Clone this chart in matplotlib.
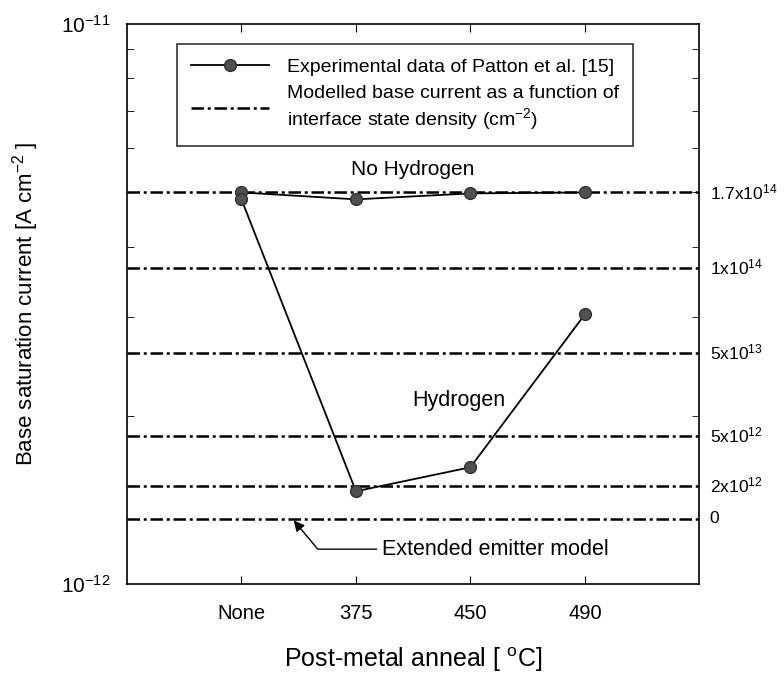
import numpy as np
import matplotlib.pyplot as plt
import matplotlib.transforms as mtransforms

plt.rcParams['font.family'] = ['Liberation Sans', 'DejaVu Sans']
plt.rcParams['mathtext.fontset'] = 'custom'
plt.rcParams['mathtext.rm'] = 'Liberation Sans'
plt.rcParams['mathtext.default'] = 'regular'

anneal = ['None', '375', '450', '490']
no_hydrogen = [5.0e-12, 4.86e-12, 4.98e-12, 5.0e-12]
hydrogen = [4.86e-12, 1.465e-12, 1.617e-12, 3.03e-12]

# modelled base current vs interface state density
model_levels = [5.0e-12, 3.67e-12, 2.59e-12, 1.84e-12, 1.50e-12, 1.31e-12]
model_labels = ['1.7x10$^{14}$', '1x10$^{14}$', '5x10$^{13}$',
                '5x10$^{12}$', '2x10$^{12}$', '0']
ytick_vals = [1e-12, 1e-11]
ytick_labels = ['10$^{-12}$', '10$^{-11}$']

fig = plt.figure(figsize=(7.84, 6.77), dpi=100)
ax = fig.add_axes([0.162, 0.137, 0.73, 0.828])

x = np.arange(len(anneal))
dashdot = (0, (5, 1.5, 1.2, 1.5))
for i, lev in enumerate(model_levels):
    ax.axhline(lev, color='k', lw=1.8, ls=dashdot,
               label='Modelled base current as a function of\ninterface state density (cm$^{-2}$)' if i == 0 else None)

mk = dict(color='k', lw=1.3, marker='o', ms=8.5, mfc='#505050', mec='#303030', mew=1)
ax.plot(x, no_hydrogen, label='Experimental data of Patton et al. [15]', **mk)
ax.plot(x, hydrogen, **mk)

ax.set_yscale('log')
ax.set_ylim(1e-12, 1e-11)
ax.set_yticks(ytick_vals)
ax.set_yticklabels(ytick_labels)
ax.set_xlim(-1, 4)
ax.set_xticks(x)
ax.set_xticklabels(anneal, fontsize=14.5)
ax.tick_params(axis='both', which='both', direction='in', top=True, right=True)
ax.tick_params(axis='x', length=6, pad=14)
ax.tick_params(axis='y', which='major', length=0, labelsize=15, pad=12)
ax.tick_params(axis='y', which='minor', length=5, labelleft=False)
for sp in ax.spines.values():
    sp.set_linewidth(1.2)

ax.set_xlabel('Post-metal anneal [ $^{o}$C]', fontsize=18, labelpad=16)
ax.set_ylabel('Base saturation current [A cm$^{-2}$ ]', fontsize=16, labelpad=14)

trans = mtransforms.blended_transform_factory(ax.transAxes, ax.transData)
for lev, lab in zip(model_levels, model_labels):
    ax.text(1.018, lev, lab, transform=trans, fontsize=12.5, va='center', ha='left')

ax.text(1.5, 5.5e-12, 'No Hydrogen', fontsize=15, ha='center', va='center')
ax.text(1.9, 2.13e-12, 'Hydrogen', fontsize=15.5, ha='center', va='center')

ax.annotate('Extended emitter model', xy=(0.456, 1.30e-12), xytext=(1.23, 1.155e-12),
            fontsize=15.5, ha='left', va='center',
            arrowprops=dict(arrowstyle='-|>', connectionstyle='angle,angleA=0,angleB=-50',
                            color='k', lw=1, shrinkA=2, shrinkB=0, mutation_scale=16))

handles, labels = ax.get_legend_handles_labels()
leg = ax.legend(handles[::-1], labels[::-1], loc='upper left', bbox_to_anchor=(0.087, 0.964),
                borderaxespad=0, fontsize=14, frameon=True, fancybox=False, edgecolor='k',
                handlelength=4.0, handletextpad=0.9, borderpad=0.75, labelspacing=0.45)
leg.get_frame().set_linewidth(1.2)

plt.savefig('out.png')
